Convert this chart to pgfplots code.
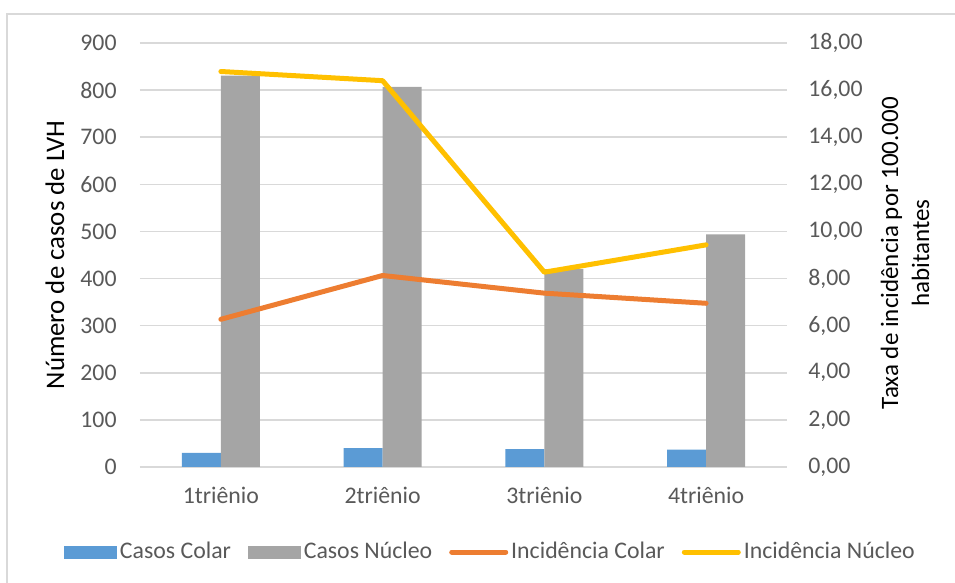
\documentclass[border=0pt]{standalone}
\usepackage{pgfplots}
\pgfplotsset{compat=1.18}
\usepackage{fontspec}
\setmainfont{Carlito}
\definecolor{cblue}{HTML}{5B9BD5}
\definecolor{cgray}{HTML}{A5A5A5}
\definecolor{corange}{HTML}{ED7D31}
\definecolor{cyellow}{HTML}{FFC000}
\definecolor{ctick}{HTML}{595959}
\definecolor{cgrid}{HTML}{D9D9D9}

\pgfplotsset{
  common/.style={
    scale only axis, width=323.5pt, height=212pt, at={(70pt,58pt)}, anchor=south west,
    xmin=-0.5, xmax=3.5, ymin=0,
    axis line style={draw=none}, major tick length=0pt,
    tick label style={font=\fontsize{11.9}{14}\selectfont, text=ctick},
    /pgf/number format/assume math mode=true,
  },
  lineimg/.style={legend image code/.code={\draw[##1] (0pt,0pt) -- (27pt,0pt);}},
  blueimg/.style={legend image code/.code={\fill[cblue] (0pt,-3pt) rectangle (26pt,3pt);}},
  grayimg/.style={legend image code/.code={\fill[cgray] (0pt,-3pt) rectangle (26pt,3pt);}},
}

\begin{document}
\begin{tikzpicture}
\begin{axis}[common,
  ymax=900, ytick={0,100,...,900},
  ymajorgrids, grid style={draw=cgrid, line width=0.75pt},
  xtick={0,1,2,3}, xticklabels={1triênio,2triênio,3triênio,4triênio},
  xticklabel style={anchor=base, inner sep=0pt, yshift=-18.5pt},
  yticklabel style={anchor=east, inner sep=0pt, xshift=-11.5pt},
  ylabel={Número de casos de LVH},
  ylabel style={at={(axis description cs:-0.1314,0.5)}, anchor=center, font=\fontsize{13.4}{16}\selectfont, text=black},
]
\addplot[fill=cblue, draw=none, ybar, bar width=19.5pt, bar shift=-9.75pt] coordinates {(0,30) (1,40) (2,38) (3,37)};
\addplot[fill=cgray, draw=none, ybar, bar width=19.5pt, bar shift=9.75pt] coordinates {(0,831) (1,807) (2,420) (3,494)};
\end{axis}
\begin{axis}[common,
  ymax=18, ytick={0,2,...,18},
  xtick=\empty,
  yticklabel pos=right,
  yticklabel style={anchor=west, inner sep=0pt, xshift=10.5pt,
    /pgf/number format/.cd, fixed, fixed zerofill, precision=2, use comma},
  legend columns=4,
  legend cell align=left,
  legend style={at={(axis description cs:0.5425,-0.2005)}, anchor=center, draw=none, fill=none,
    font=\fontsize{11.9}{14}\selectfont, text=ctick,
    nodes={inner sep=1.5pt, text=ctick},
    /tikz/every even column/.append style={column sep=7pt}},
]
\addlegendimage{blueimg}
\addlegendentry{Casos Colar}
\addlegendimage{grayimg}
\addlegendentry{Casos Núcleo}
\addplot[corange, line width=2.5pt, line cap=round, line join=round, lineimg]
  coordinates {(0,6.27) (1,8.13) (2,7.38) (3,6.95)};
\addlegendentry{Incidência Colar}
\addplot[cyellow, line width=2.5pt, line cap=round, line join=round, lineimg]
  coordinates {(0,16.79) (1,16.40) (2,8.27) (3,9.43)};
\addlegendentry{Incidência Núcleo}
\end{axis}
\node[rotate=90, align=center, font=\fontsize{12.5}{15.5}\selectfont] at (452.5pt,165pt) {Taxa de incidência por 100.000\\habitantes};
\draw[cgrid, line width=0.75pt] (3.5pt,0pt) -- (3.5pt,284.5pt) -- (477.5pt,284.5pt);
\pgfresetboundingbox
\useasboundingbox (0pt,0pt) rectangle (477.5pt,291.5pt);
\end{tikzpicture}
\end{document}
